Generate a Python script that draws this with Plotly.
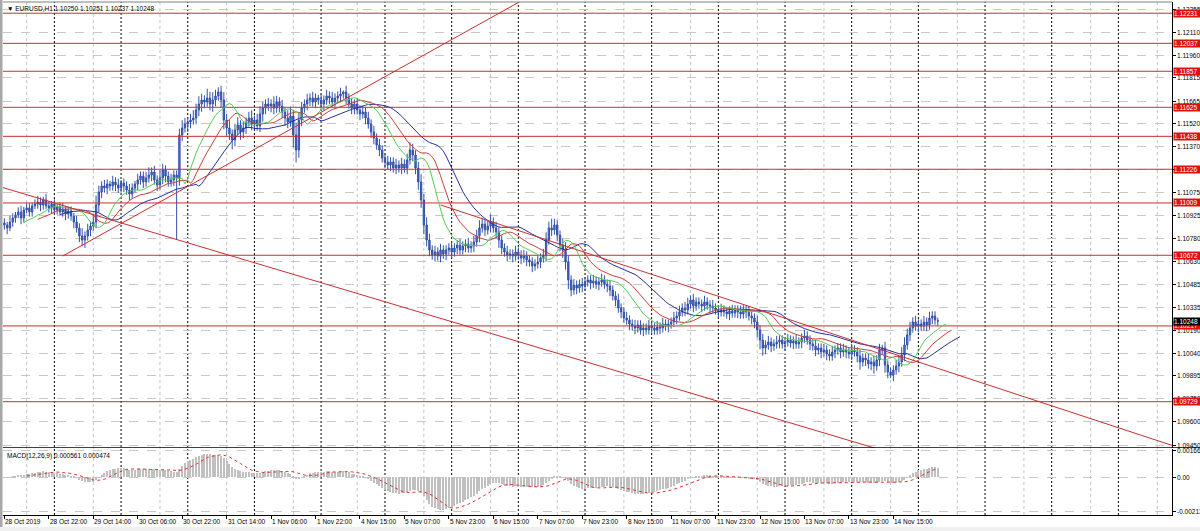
import plotly.graph_objects as go
import pandas as pd

# ---------------- data ----------------
closes = [
1.10867,1.10848,1.10886,1.10912,1.10931,1.10951,1.10912,1.10964,1.10977,1.10951,
1.10990,1.11002,1.11015,1.10996,1.11028,1.10990,1.10977,1.11002,1.10964,1.10983,
1.10951,1.10970,1.10938,1.10957,1.10925,1.10886,1.10848,1.10796,1.10770,1.10796,
1.10835,1.10860,1.10886,1.10996,1.11080,1.11118,1.11105,1.11131,1.11118,1.11144,
1.11125,1.11105,1.11137,1.11118,1.11092,1.11067,1.11105,1.11131,1.11157,1.11182,
1.11144,1.11170,1.11189,1.11208,1.11157,1.11125,1.11170,1.11221,1.11182,1.11144,
1.11157,1.11189,1.11170,1.11447,1.11492,1.11517,1.11530,1.11543,1.11556,1.11608,
1.11646,1.11672,1.11659,1.11685,1.11646,1.11672,1.11698,1.11724,1.11672,1.11543,
1.11492,1.11453,1.11414,1.11479,1.11511,1.11466,1.11492,1.11530,1.11556,1.11517,
1.11543,1.11505,1.11582,1.11620,1.11646,1.11633,1.11646,1.11620,1.11659,1.11633,
1.11595,1.11556,1.11530,1.11569,1.11447,1.11350,1.11543,1.11620,1.11646,1.11672,
1.11685,1.11659,1.11685,1.11672,1.11646,1.11672,1.11698,1.11685,1.11659,1.11685,
1.11698,1.11711,1.11724,1.11685,1.11646,1.11620,1.11646,1.11608,1.11582,1.11595,
1.11556,1.11517,1.11466,1.11427,1.11382,1.11350,1.11298,1.11273,1.11253,1.11273,
1.11234,1.11253,1.11234,1.11260,1.11234,1.11286,1.11350,1.11318,1.11234,1.11144,
1.11028,1.10867,1.10770,1.10706,1.10674,1.10693,1.10667,1.10706,1.10680,1.10706,
1.10719,1.10693,1.10719,1.10738,1.10706,1.10732,1.10745,1.10719,1.10732,1.10758,
1.10796,1.10848,1.10873,1.10835,1.10860,1.10886,1.10848,1.10822,1.10770,1.10719,
1.10693,1.10674,1.10680,1.10667,1.10693,1.10674,1.10654,1.10667,1.10642,1.10629,
1.10603,1.10616,1.10629,1.10654,1.10674,1.10770,1.10848,1.10835,1.10867,1.10802,
1.10738,1.10706,1.10629,1.10513,1.10448,1.10480,1.10461,1.10486,1.10474,1.10500,
1.10513,1.10493,1.10506,1.10486,1.10500,1.10513,1.10486,1.10474,1.10448,1.10410,
1.10384,1.10332,1.10307,1.10268,1.10255,1.10229,1.10216,1.10204,1.10223,1.10191,
1.10204,1.10191,1.10216,1.10204,1.10191,1.10210,1.10204,1.10229,1.10216,1.10229,
1.10242,1.10268,1.10281,1.10307,1.10332,1.10320,1.10358,1.10384,1.10345,1.10371,
1.10358,1.10345,1.10371,1.10352,1.10345,1.10332,1.10320,1.10307,1.10320,1.10307,
1.10294,1.10313,1.10300,1.10320,1.10307,1.10294,1.10320,1.10307,1.10281,1.10268,
1.10242,1.10191,1.10126,1.10075,1.10094,1.10113,1.10088,1.10101,1.10113,1.10126,
1.10101,1.10113,1.10126,1.10107,1.10120,1.10101,1.10113,1.10139,1.10152,1.10126,
1.10101,1.10088,1.10062,1.10075,1.10049,1.10062,1.10036,1.10023,1.10049,1.10062,
1.10075,1.10049,1.10062,1.10049,1.10036,1.10062,1.10049,1.10023,1.09985,1.10010,
1.09998,1.09972,1.09985,1.09959,1.09998,1.10062,1.10075,1.09965,1.09920,1.09901,
1.09933,1.09959,1.09985,1.10030,1.10094,1.10159,1.10204,1.10242,1.10216,1.10229,
1.10216,1.10242,1.10223,1.10268,1.10281,1.10255,1.10248]

opens = [
1.10880,1.10867,1.10848,1.10886,1.10912,1.10931,1.10951,1.10912,1.10964,1.10977,
1.10951,1.10990,1.11002,1.11015,1.10996,1.11028,1.10990,1.10977,1.11002,1.10964,
1.10983,1.10951,1.10970,1.10938,1.10957,1.10925,1.10886,1.10848,1.10796,1.10770,
1.10796,1.10835,1.10860,1.10886,1.10996,1.11080,1.11118,1.11105,1.11131,1.11118,
1.11144,1.11125,1.11105,1.11137,1.11118,1.11092,1.11067,1.11105,1.11131,1.11157,
1.11182,1.11144,1.11170,1.11189,1.11208,1.11157,1.11125,1.11170,1.11221,1.11182,
1.11144,1.11157,1.11189,1.11170,1.11447,1.11492,1.11517,1.11530,1.11543,1.11556,
1.11608,1.11646,1.11672,1.11659,1.11685,1.11646,1.11672,1.11698,1.11724,1.11672,
1.11543,1.11492,1.11453,1.11414,1.11479,1.11511,1.11466,1.11492,1.11530,1.11556,
1.11517,1.11543,1.11505,1.11582,1.11620,1.11646,1.11633,1.11646,1.11620,1.11659,
1.11633,1.11595,1.11556,1.11530,1.11569,1.11447,1.11350,1.11543,1.11620,1.11646,
1.11672,1.11685,1.11659,1.11685,1.11672,1.11646,1.11672,1.11698,1.11685,1.11659,
1.11685,1.11698,1.11711,1.11724,1.11685,1.11646,1.11620,1.11646,1.11608,1.11582,
1.11595,1.11556,1.11517,1.11466,1.11427,1.11382,1.11350,1.11298,1.11273,1.11253,
1.11273,1.11234,1.11253,1.11234,1.11260,1.11234,1.11286,1.11350,1.11318,1.11234,
1.11144,1.11028,1.10867,1.10770,1.10706,1.10674,1.10693,1.10667,1.10706,1.10680,
1.10706,1.10719,1.10693,1.10719,1.10738,1.10706,1.10732,1.10745,1.10719,1.10732,
1.10758,1.10796,1.10848,1.10873,1.10835,1.10860,1.10886,1.10848,1.10822,1.10770,
1.10719,1.10693,1.10674,1.10680,1.10667,1.10693,1.10674,1.10654,1.10667,1.10642,
1.10629,1.10603,1.10616,1.10629,1.10654,1.10674,1.10770,1.10848,1.10835,1.10867,
1.10802,1.10738,1.10706,1.10629,1.10513,1.10448,1.10480,1.10461,1.10486,1.10474,
1.10500,1.10513,1.10493,1.10506,1.10486,1.10500,1.10513,1.10486,1.10474,1.10448,
1.10410,1.10384,1.10332,1.10307,1.10268,1.10255,1.10229,1.10216,1.10204,1.10223,
1.10191,1.10204,1.10191,1.10216,1.10204,1.10191,1.10210,1.10204,1.10229,1.10216,
1.10229,1.10242,1.10268,1.10281,1.10307,1.10332,1.10320,1.10358,1.10384,1.10345,
1.10371,1.10358,1.10345,1.10371,1.10352,1.10345,1.10332,1.10320,1.10307,1.10320,
1.10307,1.10294,1.10313,1.10300,1.10320,1.10307,1.10294,1.10320,1.10307,1.10281,
1.10268,1.10242,1.10191,1.10126,1.10075,1.10094,1.10113,1.10088,1.10101,1.10113,
1.10126,1.10101,1.10113,1.10126,1.10107,1.10120,1.10101,1.10113,1.10139,1.10152,
1.10126,1.10101,1.10088,1.10062,1.10075,1.10049,1.10062,1.10036,1.10023,1.10049,
1.10062,1.10075,1.10049,1.10062,1.10049,1.10036,1.10062,1.10049,1.10023,1.09985,
1.10010,1.09998,1.09972,1.09985,1.09959,1.09998,1.10062,1.10075,1.09965,1.09920,
1.09901,1.09933,1.09959,1.09985,1.10030,1.10094,1.10159,1.10204,1.10242,1.10216,
1.10229,1.10216,1.10242,1.10223,1.10268,1.10281,1.10250]

# upper / lower shadow lengths, in pips, read per bar
wick_hi_pips = [
3,2,4,3,2,3,4,2,3,3, 2,3,4,3,2,4,3,2,3,2, 3,4,2,3,3,2,4,3,5,3, 4,3,5,6,4,3,4,3,2,4,
3,4,2,3,3,4,3,2,4,3, 3,4,5,3,4,3,5,4,3,3, 4,3,3,4,5,4,3,4,5,4, 5,4,3,6,4,5,4,3,4,5,
4,5,3,4,5,3,4,3,4,5, 3,4,5,4,3,4,3,5,4,3, 4,3,5,6,4,8,5,4,3,4, 3,4,3,2,4,3,4,3,4,3,
3,4,1,4,3,4,3,4,3,4, 3,4,3,4,3,4,3,3,4,3, 3,4,3,4,3,4,5,4,3,4, 5,4,5,4,3,4,3,4,3,3,
3,4,3,3,4,3,3,4,3,4, 4,5,4,3,4,5,3,4,3,3, 3,4,3,3,4,3,3,4,3,3, 3,3,4,3,4,5,4,6,4,3,
3,4,5,4,3,4,3,3,4,3, 3,3,4,3,3,4,3,3,4,3, 3,4,3,3,4,3,3,4,3,3, 3,3,4,3,3,4,3,4,3,3,
3,4,3,4,3,4,4,3,4,3, 3,3,4,3,3,4,3,3,4,3, 3,3,4,3,3,4,3,3,4,3, 3,4,3,4,3,4,3,3,4,3,
3,3,4,3,3,4,3,3,4,3, 3,3,4,3,3,4,3,3,4,3, 3,3,4,3,3,4,3,3,4,3, 3,4,3,4,3,4,2,4,3,3,
3,4,4,5,5,4,4,3,4,3, 3,4,3,4,3,3,2]
wick_lo_pips = [
3,4,2,3,3,2,4,3,2,3, 3,2,3,4,3,2,3,4,3,3, 2,3,4,3,3,4,3,4,4,5, 3,4,3,4,5,4,3,4,3,3,
4,3,3,4,3,4,3,3,4,3, 4,3,3,4,3,4,3,4,4,3, 3,4,40,5,4,3,5,4,3,4, 4,5,4,3,4,5,4,3,5,6,
5,4,6,4,3,5,4,4,3,4, 4,3,4,5,4,3,4,4,3,4, 4,5,4,3,8,8,5,4,3,4, 4,3,4,3,3,4,3,4,3,3,
3,4,3,4,3,4,4,3,4,3, 4,3,4,4,3,4,3,4,3,4, 3,4,3,4,3,4,3,4,4,5, 5,6,4,4,3,4,3,4,3,4,
3,4,3,4,3,3,4,3,3,4, 3,4,3,4,3,4,3,4,5,4, 3,4,3,4,3,3,4,3,4,3, 4,3,3,4,3,4,3,4,3,4,
4,5,5,6,4,3,4,3,4,3, 3,4,3,3,4,3,3,4,4,3, 4,3,4,3,3,4,3,4,3,3, 4,3,3,4,3,3,4,3,3,4,
3,3,4,3,3,4,3,3,4,3, 3,4,3,3,4,3,3,4,3,3, 3,4,3,3,4,3,3,4,3,4, 4,5,6,5,4,3,4,3,3,4,
3,4,3,3,4,3,3,4,3,3, 4,3,4,3,4,3,4,3,3,4, 3,4,3,4,3,4,3,4,5,3, 4,3,4,5,3,4,3,5,4,2,
4,3,4,3,4,3,4,3,3,4, 3,3,4,3,4,3,3]

price_ticks = [1.12255, 1.12110, 1.11960, 1.11815, 1.11665, 1.11520, 1.11370, 1.11225,
               1.11075, 1.10925, 1.10780, 1.10630, 1.10485, 1.10335, 1.10190, 1.10040,
               1.09895, 1.09750, 1.09600, 1.09450]
levels = [1.12231, 1.12037, 1.11857, 1.11625, 1.11438, 1.11226, 1.11009, 1.10672, 1.10217, 1.09729]
last_price = 1.10248
time_labels = ["28 Oct 2019", "28 Oct 22:00", "29 Oct 14:00", "30 Oct 06:00", "30 Oct 22:00",
               "31 Oct 14:00", "1 Nov 06:00", "1 Nov 22:00", "4 Nov 15:00", "5 Nov 07:00",
               "5 Nov 23:00", "6 Nov 15:00", "7 Nov 07:00", "7 Nov 23:00", "8 Nov 15:00",
               "11 Nov 07:00", "11 Nov 23:00", "12 Nov 15:00", "13 Nov 07:00", "13 Nov 23:00",
               "14 Nov 15:00"]
macd_ticks = [0.001663, 0.0, -0.00213]
macd_tick_text = ["0.001663", "0.00", "-0.00213"]
# trend lines: two anchors each (bar index, price)
trend_up = ([21, 1.10667], [186, 1.12310])
channel_low = ([0, 1.11105], [312, 1.09437])
channel_high = ([157, 1.10996], [341, 1.09914])
title_text = "\u25bc EURUSD,H1 1.10250 1.10251 1.10237 1.10248"
macd_title = "MACD(12,26,9) 0.000561 0.000474"

# ---------------- time axis ----------------
N_AXIS = 422
times = []
t = pd.Timestamp("2019-10-28 06:00")
missing = {pd.Timestamp("2019-11-04 00:00")}
while len(times) < N_AXIS:
    if t.weekday() < 5 and t not in missing:
        times.append(t)
    t += pd.Timedelta(hours=1)
day_seps = [i for i in range(1, N_AXIS) if times[i].date() != times[i - 1].date()]
grid_v = [i for i in range(N_AXIS) if times[i].hour == 14]

n = len(closes)
xs = list(range(n))
PIP = 0.0001
highs = [max(o, c) + w * PIP for o, c, w in zip(opens, closes, wick_hi_pips)]
lows = [min(o, c) - w * PIP for o, c, w in zip(opens, closes, wick_lo_pips)]

# ---------------- indicators ----------------
def smma(vals, p):
    out = [None] * len(vals)
    s = sum(vals[:p]) / p
    out[p - 1] = s
    for i in range(p, len(vals)):
        s = (s * (p - 1) + vals[i]) / p
        out[i] = s
    return out

def ema(vals, p):
    k = 2 / (p + 1)
    out = []
    e = vals[0]
    for v in vals:
        e = e + k * (v - e)
        out.append(e)
    return out

median = [(h + l) / 2 for h, l in zip(highs, lows)]
jaw = smma(median, 13)
teeth = smma(median, 8)
lips = smma(median, 5)

e12 = ema(closes, 12)
e26 = ema(closes, 26)
macd = [a - b for a, b in zip(e12, e26)]
signal = [None] * n
for i in range(8, n):
    signal[i] = sum(macd[i - 8:i + 1]) / 9

# ---------------- figure ----------------
RED = "#cc2e2e"
FONT = "Liberation Sans"
FS = 6.5
fig = go.Figure()

for lv in levels:
    fig.add_trace(go.Scatter(x=[-5, 430], y=[lv, lv], mode="lines", line=dict(color=RED, width=1),
                             xaxis="x2", yaxis="y", hoverinfo="skip"))

fig.add_trace(go.Candlestick(
    x=xs, open=opens, high=highs, low=lows, close=closes, xaxis="x2", yaxis="y",
    increasing=dict(line=dict(color="#3352a8", width=1), fillcolor="#5a7dd0"),
    decreasing=dict(line=dict(color="#3352a8", width=1), fillcolor="#3f62bf"),
    whiskerwidth=0, hoverinfo="skip"))

for vals, shift, col in ((jaw, 8, "#26309a"), (teeth, 5, "#c8403a"), (lips, 3, "#55cc55")):
    px = [i + shift for i in range(n) if vals[i] is not None]
    py = [v for v in vals if v is not None]
    fig.add_trace(go.Scatter(x=px, y=py, mode="lines", line=dict(color=col, width=1),
                             xaxis="x2", yaxis="y", hoverinfo="skip"))

def ray(a, b, x_end):
    (x0, y0), (x1, y1) = a, b
    slope = (y1 - y0) / (x1 - x0)
    return [x0, x_end], [y0, y0 + slope * (x_end - x0)]

for (a, b), x_start in ((trend_up, None), (channel_low, -5), (channel_high, None)):
    if x_start is not None:
        slope = (b[1] - a[1]) / (b[0] - a[0])
        a = [x_start, a[1] + slope * (x_start - a[0])]
    rx, ry = ray(a, b, 430)
    fig.add_trace(go.Scatter(x=rx, y=ry, mode="lines", line=dict(color=RED, width=1),
                             xaxis="x2", yaxis="y", hoverinfo="skip"))

fig.add_trace(go.Bar(x=xs, y=macd, marker=dict(color="#c0c0c0", line=dict(width=0)), width=0.4,
                     xaxis="x", yaxis="y2", hoverinfo="skip"))
fig.add_trace(go.Scatter(x=xs, y=signal, mode="lines", line=dict(color="#e03030", width=1, dash="dot"),
                         xaxis="x", yaxis="y2", hoverinfo="skip"))

shapes = []
for g in grid_v:
    shapes.append(dict(type="line", xref="x", x0=g, x1=g, yref="paper", y0=0, y1=1,
                       line=dict(color="#c4c4c4", width=1, dash="3px,3px"), layer="below"))
for d in day_seps:
    shapes.append(dict(type="line", xref="x", x0=d, x1=d, yref="paper", y0=0, y1=1,
                       line=dict(color="#000000", width=1, dash="2px,2px"), layer="below"))
# window frame
shapes.append(dict(type="rect", xref="paper", yref="paper", x0=-0.01, x1=-0.0004, y0=-0.05, y1=1.01,
                   fillcolor="#a8a8a8", line=dict(width=0)))
shapes.append(dict(type="line", xref="paper", yref="paper", x0=0, x1=1, y0=1, y1=1,
                   line=dict(color="#808080", width=1)))
shapes.append(dict(type="line", xref="paper", yref="y", x0=0, x1=1.03, y0=1.094307, y1=1.094307,
                   line=dict(color="#000000", width=1.5)))
shapes.append(dict(type="rect", xref="paper", yref="paper", x0=-0.01, x1=1.03, y0=-0.0235, y1=-0.04,
                   fillcolor="#f0f0f0", line=dict(width=0)))

ann = []
for v in price_ticks:
    ann.append(dict(x=1, xref="paper", y=v, yref="y", text=f"{v:.5f}", showarrow=False,
                    xanchor="left", yanchor="middle", xshift=3,
                    font=dict(color="black", size=FS, family=FONT)))
for v, s in zip(macd_ticks, macd_tick_text):
    ann.append(dict(x=1, xref="paper", y=v, yref="y2", text=s, showarrow=False,
                    xanchor="left", yanchor="middle", xshift=3,
                    font=dict(color="black", size=FS, family=FONT)))
for lv in levels:
    ann.append(dict(x=1, xref="paper", y=lv, yref="y", text=f"{lv:.5f}", showarrow=False,
                    xanchor="left", yanchor="middle", bgcolor="#e01010", width=26, align="left",
                    font=dict(color="white", size=FS, family=FONT), borderpad=0, xshift=1))
ann.append(dict(x=1, xref="paper", y=last_price, yref="y", text=f"{last_price:.5f}", showarrow=False,
                xanchor="left", yanchor="middle", bgcolor="#000000", width=26, align="left",
                font=dict(color="white", size=FS, family=FONT), borderpad=0, xshift=1))
for k, lab in enumerate(time_labels):
    ann.append(dict(x=k * 16, xref="x", y=0, yref="paper", text=lab, showarrow=False,
                    xanchor="left", yanchor="middle", yshift=-6, xshift=-1,
                    font=dict(color="black", size=FS, family=FONT)))
ann.append(dict(x=0, xref="paper", y=1, yref="paper", text=title_text, showarrow=False,
                xanchor="left", yanchor="top", xshift=2, yshift=-1,
                font=dict(color="black", size=FS, family=FONT)))
ann.append(dict(x=0, xref="paper", y=0.1287, yref="paper", text=macd_title, showarrow=False,
                xanchor="left", yanchor="top", xshift=2, yshift=-1,
                font=dict(color="black", size=FS, family=FONT)))

XR = [-0.5, 420.3]
fig.update_layout(
    width=1200, height=531,
    margin=dict(l=3, r=28, t=2, b=16),
    paper_bgcolor="white", plot_bgcolor="white",
    showlegend=False, bargap=0,
    font=dict(family=FONT, size=FS, color="black"),
    xaxis=dict(domain=[0, 1], range=XR, anchor="y2", showticklabels=False, showgrid=False,
               zeroline=False, showline=True, linecolor="black", linewidth=1,
               tickvals=[k * 16 for k in range(len(time_labels))], ticks="outside", ticklen=3,
               tickcolor="black"),
    xaxis2=dict(domain=[0, 1], range=XR, anchor="y", matches="x", showticklabels=False,
                showgrid=False, zeroline=False, showline=False, rangeslider=dict(visible=False)),
    yaxis=dict(domain=[0.1306, 1], range=[1.094307, 1.123032], side="right", anchor="x2",
               tickvals=price_ticks, showticklabels=False,
               ticks="outside", ticklen=3, tickcolor="black", showline=True, linecolor="black",
               showgrid=True, gridcolor="#c8c8c8", griddash="dash", zeroline=False),
    yaxis2=dict(domain=[0, 0.1287], range=[-0.00238, 0.00179], side="right", anchor="x",
                tickvals=macd_ticks, showticklabels=False,
                ticks="outside", ticklen=3, tickcolor="black", showline=True, linecolor="black",
                showgrid=True, gridcolor="#c8c8c8", griddash="dash", zeroline=False),
    shapes=shapes, annotations=ann,
)
fig.write_html("out.html", config={"displayModeBar": False},
               post_script="document.body.style.margin='0';document.body.style.overflow='hidden';")
